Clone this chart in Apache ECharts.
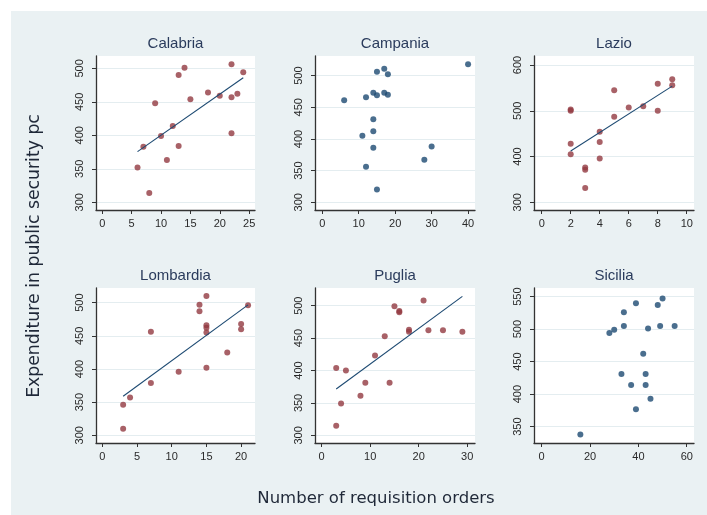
<!DOCTYPE html>
<html><head><meta charset="utf-8">
<script src="https://cdn.jsdelivr.net/npm/echarts@6/dist/echarts.min.js"></script>
<style>html,body{margin:0;padding:0;background:#fff}#c{width:707px;height:515px}</style>
</head><body><div id="c"></div>
<script>
// ---- data ----
const panelNames = ['Calabria','Campania','Lazio','Lombardia','Puglia','Sicilia'];

const calabriaX = [6,7,8,9,10,11,12,13,13,14,15,18,20,22,22,22,23,24];
const calabriaY = [352,383,314,448,399,363,414,490,384,501,454,464,459,506,457,403,462,494];

const campaniaX = [6,12,11,12,14,14,14,14,15,15,15,17,17,18,18,28,30,40];
const campaniaY = [461,466,405,356,431,412,386,473,469,506,320,511,473,502,470,367,388,518];

const lazioX = [2,2,2,2,3,3,3,4,4,4,5,5,6,7,8,8,9,9];
const lazioY = [503,500,428,405,376,371,331,454,432,396,545,487,507,510,559,500,569,556];

const lombardiaX = [3,3,4,7,7,11,14,14,15,15,15,15,15,18,20,20,21];
const lombardiaY = [346,310,357,456,379,396,497,487,510,466,462,455,402,425,468,460,496];

const pugliaX = [3,3,4,5,8,9,11,13,14,15,16,16,18,18,21,22,25,29];
const pugliaY = [404,315,349,400,361,381,423,453,381,499,492,490,463,460,508,462,462,460];

const siciliaX = [16,28,30,34,34,33,37,39,39,42,43,43,44,45,48,49,50,55];
const siciliaY = [338,494,499,526,505,431,414,540,377,462,431,414,501,393,537,505,547,505];

const calabriaYTicks = [300,350,400,450,500];
const campaniaYTicks = [300,350,400,450,500];
const lazioYTicks = [300,400,500,600];
const lombardiaYTicks = [300,350,400,450,500];
const pugliaYTicks = [300,350,400,450,500];
const siciliaYTicks = [350,400,450,500,550];

const calabriaXTicks = [0,5,10,15,20,25];
const campaniaXTicks = [0,10,20,30,40];
const lazioXTicks = [0,2,4,6,8,10];
const lombardiaXTicks = [0,5,10,15,20];
const pugliaXTicks = [0,10,20,30];
const siciliaXTicks = [0,20,40,60];

const yTitle = 'Expenditure in public security pc';
const xTitle = 'Number of requisition orders';

// ---- layout ----
const RED = '#923a41', NAVY = '#1d4a72';
const panels = [
  {x: calabriaX, y: calabriaY, xt: calabriaXTicks, yt: calabriaYTicks, fit: true, color: RED,
   rect: [96,56,255,210], xr: [-1.07,26.0], yr: [288.5,518.4]},
  {x: campaniaX, y: campaniaY, xt: campaniaXTicks, yt: campaniaYTicks, fit: false, color: NAVY,
   rect: [315,56,475,210], xr: [-2.0,41.9], yr: [287.8,531]},
  {x: lazioX, y: lazioY, xt: lazioXTicks, yt: lazioYTicks, fit: true, color: RED,
   rect: [534,56,694,210], xr: [-0.53,10.5], yr: [283.2,619.7]},
  {x: lombardiaX, y: lombardiaY, xt: lombardiaXTicks, yt: lombardiaYTicks, fit: true, color: RED,
   rect: [96,288,255,443], xr: [-0.91,22.0], yr: [288.4,522.1]},
  {x: pugliaX, y: pugliaY, xt: pugliaXTicks, yt: pugliaYTicks, fit: true, color: RED,
   rect: [315,288,475,443], xr: [-1.37,31.6], yr: [288.2,527.3]},
  {x: siciliaX, y: siciliaY, xt: siciliaXTicks, yt: siciliaYTicks, fit: false, color: NAVY,
   rect: [534,288,694,443], xr: [-3.17,63.0], yr: [324.9,563.3]}
];

function ols(xs, ys) {
  const n = xs.length;
  let mx = 0, my = 0;
  for (let i = 0; i < n; i++) { mx += xs[i]; my += ys[i]; }
  mx /= n; my /= n;
  let sxy = 0, sxx = 0;
  for (let i = 0; i < n; i++) { sxy += (xs[i]-mx)*(ys[i]-my); sxx += (xs[i]-mx)*(xs[i]-mx); }
  const b = sxy / sxx, a = my - b*mx;
  const lo = Math.min(...xs), hi = Math.max(...xs);
  return [[lo, a + b*lo], [hi, a + b*hi]];
}

const AX = '#333333';
const tickFont = {fontSize: 11, color: '#2a2a2a', fontFamily: 'Liberation Sans, Arial, sans-serif'};
const grid = [], xAxis = [], yAxis = [], series = [], graphic = [];

graphic.push({type:'rect', shape:{x:0,y:0,width:707,height:11}, style:{fill:'#fff'}, z:100});
graphic.push({type:'rect', shape:{x:0,y:0,width:11,height:515}, style:{fill:'#fff'}, z:100});

panels.forEach((p, i) => {
  const [l, t, r, b] = p.rect;
  grid.push({left: l, top: t, width: r - l, height: b - t, show: true,
    backgroundColor: '#ffffff', borderWidth: 0});
  xAxis.push({gridIndex: i, type: 'value', min: p.xr[0], max: p.xr[1],
    axisLine: {show: true, onZero: false, lineStyle: {color: AX, width: 1.3}},
    axisTick: {show: true, length: 4, customValues: p.xt, lineStyle: {color: AX, width: 1}},
    axisLabel: Object.assign({customValues: p.xt, margin: 8}, tickFont),
    splitLine: {show: false}});
  yAxis.push({gridIndex: i, type: 'value', min: p.yr[0], max: p.yr[1],
    axisLine: {show: true, onZero: false, lineStyle: {color: AX, width: 1.3}},
    axisTick: {show: true, length: 4, customValues: p.yt, lineStyle: {color: AX, width: 1}},
    axisLabel: Object.assign({customValues: p.yt, rotate: 90, margin: 11}, tickFont),
    splitLine: {show: true, lineStyle: {color: '#e4edf0', width: 1.2}}});
  series.push({type: 'scatter', xAxisIndex: i, yAxisIndex: i,
    data: p.x.map((v, k) => [v, p.y[k]]), symbol: 'circle', symbolSize: 6,
    itemStyle: {color: p.color}, silent: true, z: 3});
  if (p.fit) {
    series.push({type: 'line', xAxisIndex: i, yAxisIndex: i, data: ols(p.x, p.y),
      showSymbol: false, symbol: 'none', lineStyle: {color: NAVY, width: 1.1},
      silent: true, z: 4, animation: false});
  }
  graphic.push({type: 'text', x: (l + r) / 2, y: t - 12,
    style: {text: panelNames[i], textAlign: 'center', textVerticalAlign: 'middle',
      font: '15px "Liberation Sans", Arial, sans-serif', fill: '#2a3b5c'}});
});

graphic.push({type: 'text', x: 376, y: 499,
  style: {text: xTitle, textAlign: 'center', textVerticalAlign: 'middle',
    font: '16.5px "DejaVu Sans", sans-serif', fill: '#1f2838'}});
graphic.push({type: 'text', x: 35, y: 256, rotation: Math.PI / 2,
  style: {text: yTitle, textAlign: 'center', textVerticalAlign: 'middle',
    font: '17.3px "DejaVu Sans", sans-serif', fill: '#1f2838'}});

const chart = echarts.init(document.getElementById('c'), null, {renderer: 'canvas'});
chart.setOption({
  animation: false,
  backgroundColor: '#eaf1f3',
  grid, xAxis, yAxis, series, graphic
});
</script>
</body></html>
